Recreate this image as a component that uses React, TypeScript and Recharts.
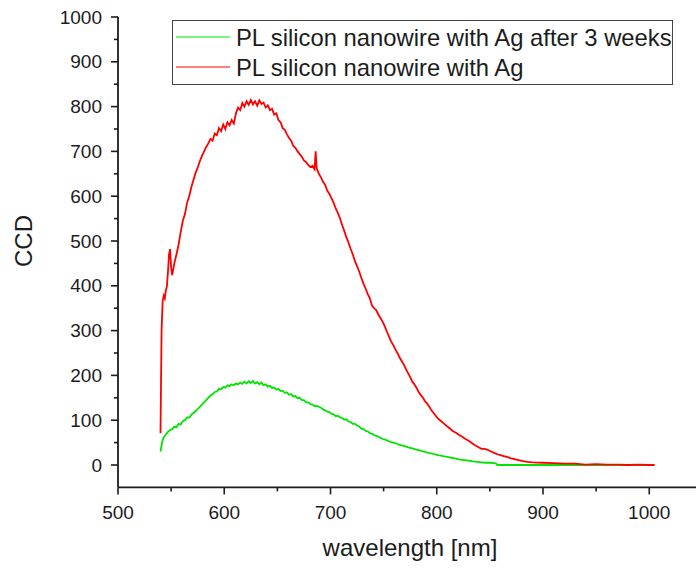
import React from 'react';
import { LineChart, Line, XAxis, YAxis, Label } from 'recharts';

const FONT = '"Liberation Sans", Arial, Helvetica, sans-serif';
const INK = '#1c1c1c';

const X_TICKS = [500, 550, 600, 650, 700, 750, 800, 850, 900, 950, 1000];
const Y_TICKS = [0, 50, 100, 150, 200, 250, 300, 350, 400, 450, 500, 550, 600, 650, 700, 750, 800, 850, 900, 950, 1000];

const SERIES_NAMES = ['PL silicon nanowire with Ag after 3 weeks', 'PL silicon nanowire with Ag'];
const SERIES_COLORS = ['#00e400', '#ff0000'];

// [wavelength nm, CCD counts]
const plAfter3Weeks: [number, number][] = [
  [540, 30], [541, 44], [542, 55], [543, 62], [545, 68], [547, 74], [549, 78], [551, 80],
  [553, 86], [555, 84], [557, 92], [559, 90], [561, 98], [563, 100], [565, 106], [567, 106],
  [569, 112], [571, 116], [573, 120], [575, 125], [577, 130], [579, 135], [581, 140], [583, 145],
  [585, 150], [587, 155], [589, 158], [591, 163], [593, 164], [595, 170], [597, 169], [599, 174],
  [601, 173], [603, 178], [605, 176], [607, 180], [609, 178], [611, 182], [613, 180], [615, 184],
  [617, 181], [619, 186], [621, 182], [623, 187], [625, 183], [627, 188], [629, 182], [631, 185],
  [633, 180], [635, 184], [637, 178], [639, 180], [641, 175], [643, 177], [645, 172], [647, 173],
  [649, 168], [651, 170], [653, 165], [655, 166], [657, 161], [659, 162], [661, 157], [663, 158],
  [665, 153], [667, 154], [669, 149], [671, 150], [673, 145], [675, 145], [677, 140], [679, 140],
  [681, 136], [683, 135], [685, 131], [687, 132], [689, 130], [691, 128], [693, 124], [695, 122],
  [697, 119], [699, 118], [701, 114], [703, 113], [705, 109], [707, 110], [709, 106], [711, 105],
  [713, 101], [715, 102], [717, 97], [719, 96], [721, 92], [723, 92], [725, 88], [727, 86],
  [729, 81], [731, 80], [733, 76], [735, 75], [737, 71], [739, 70], [741, 67], [743, 65],
  [745, 63], [747, 61], [749, 58], [751, 57], [753, 55], [755, 53], [757, 51], [759, 50],
  [762, 48], [765, 45], [768, 43], [771, 41], [774, 39], [777, 37], [780, 35], [783, 33],
  [786, 31], [789, 29], [792, 27], [795, 26], [798, 24], [801, 22], [804, 21], [807, 19],
  [810, 18], [814, 16], [818, 14], [822, 12], [826, 11], [830, 10], [834, 8], [838, 7],
  [842, 6], [846, 5], [850, 5], [854, 4], [856, 3], [857, 0], [1000, 0],
];

const plFresh: [number, number][] = [
  [540, 71], [541, 300], [542, 365], [543, 378], [544, 372], [545, 390], [546, 398], [547, 430],
  [548, 470], [549, 482], [550, 440], [551, 424], [553, 450], [555, 470], [557, 492], [559, 520],
  [561, 545], [563, 560], [565, 585], [567, 600], [569, 620], [571, 636], [573, 652], [575, 664],
  [577, 678], [579, 690], [581, 700], [583, 710], [585, 718], [587, 728], [589, 724], [591, 740],
  [593, 736], [595, 752], [597, 745], [599, 760], [601, 750], [603, 765], [605, 758], [607, 770],
  [609, 762], [611, 785], [613, 798], [615, 792], [617, 808], [619, 800], [621, 812], [623, 804],
  [625, 815], [627, 805], [629, 812], [631, 802], [633, 814], [635, 806], [637, 809], [639, 798],
  [641, 803], [643, 792], [645, 795], [647, 782], [649, 785], [651, 770], [653, 765], [655, 752],
  [657, 748], [659, 738], [661, 730], [663, 724], [665, 712], [667, 708], [669, 700], [671, 694],
  [673, 688], [675, 680], [677, 676], [679, 670], [681, 665], [683, 668], [685, 660], [686, 700],
  [687, 662], [689, 650], [691, 642], [693, 632], [695, 625], [697, 612], [699, 605], [701, 595],
  [703, 585], [705, 572], [707, 562], [709, 550], [711, 535], [713, 522], [715, 508], [717, 496],
  [719, 482], [721, 470], [723, 455], [725, 444], [727, 432], [729, 418], [731, 405], [733, 394],
  [735, 382], [737, 372], [739, 356], [741, 350], [743, 346], [745, 336], [747, 328], [749, 320],
  [751, 310], [753, 298], [755, 287], [757, 276], [759, 268], [761, 258], [763, 250], [765, 240],
  [767, 232], [769, 224], [771, 214], [773, 205], [775, 196], [777, 186], [779, 180], [781, 172],
  [783, 163], [785, 156], [787, 150], [789, 142], [791, 137], [793, 130], [795, 122], [797, 116],
  [799, 110], [801, 104], [803, 100], [806, 94], [809, 88], [812, 82], [815, 76], [818, 72],
  [821, 67], [824, 63], [827, 58], [830, 54], [833, 49], [836, 44], [839, 40], [842, 36],
  [845, 36], [848, 34], [851, 30], [854, 27], [857, 24], [860, 22], [863, 20], [866, 18],
  [870, 15], [875, 12], [880, 9], [885, 7], [890, 6], [900, 5], [910, 4], [920, 3],
  [930, 3], [940, 1], [950, 2], [960, 1], [970, 1], [980, 0], [990, 1], [1000, 0], [1005, 0],
];

const toRows = (pts: [number, number][]) => pts.map(([nm, ccd]) => ({ nm, ccd }));

function XTick({ x, y, payload }: any) {
  const major = payload.value % 100 === 0;
  return (
    <g>
      <line x1={x} x2={x} y1={y} y2={y + (major ? 7 : 4)} stroke={INK} strokeWidth={1.6} />
      {major && (
        <text x={x} y={y + 32} textAnchor="middle" fontSize={19} fill={INK} fontFamily={FONT}>
          {payload.value}
        </text>
      )}
    </g>
  );
}

function YTick({ x, y, payload }: any) {
  const major = payload.value % 100 === 0;
  return (
    <g>
      <line x1={x - (major ? 7 : 4)} x2={x} y1={y} y2={y} stroke={INK} strokeWidth={1.6} />
      {major && (
        <text x={x - 16} y={y} dy="0.35em" textAnchor="end" fontSize={19} fill={INK} fontFamily={FONT}>
          {payload.value}
        </text>
      )}
    </g>
  );
}

function LegendBox() {
  return (
    <svg width={696} height={100} style={{ position: 'absolute', left: 0, top: 0, pointerEvents: 'none' }}>
      <rect x={172.5} y={20.5} width={500} height={64} fill="#fff" stroke="#444" strokeWidth={1} />
      {SERIES_NAMES.map((name, i) => (
        <g key={name}>
          <line x1={176} x2={230} y1={37 + i * 30} y2={37 + i * 30} stroke={SERIES_COLORS[i]} strokeWidth={1} />
          <text x={236} y={46 + i * 30} fontSize={23.8} fill={INK} fontFamily={FONT}>
            {name}
          </text>
        </g>
      ))}
    </svg>
  );
}

export default function App() {
  return (
    <div style={{ position: 'fixed', left: 0, top: 0, width: 696, height: 568, overflow: 'hidden', background: '#fff' }}>
      <LineChart width={696} height={568} margin={{ top: 17, right: 0, bottom: 0, left: 0 }}>
        <XAxis
          dataKey="nm"
          type="number"
          domain={[500, 1044]}
          ticks={X_TICKS}
          interval={0}
          allowDataOverflow
          height={80.6}
          tickSize={0}
          tickMargin={0}
          tickLine={false}
          tick={<XTick />}
          axisLine={{ stroke: INK, strokeWidth: 1.8 }}
        >
          <Label
            content={() => (
              <text x={410} y={556} textAnchor="middle" fontSize={24} fill={INK} fontFamily={FONT}>
                wavelength [nm]
              </text>
            )}
          />
        </XAxis>
        <YAxis
          dataKey="ccd"
          type="number"
          domain={[-50, 1000]}
          ticks={Y_TICKS}
          interval={0}
          allowDataOverflow
          width={118}
          tickSize={0}
          tickMargin={0}
          tickLine={false}
          tick={<YTick />}
          axisLine={{ stroke: INK, strokeWidth: 1.8 }}
        >
          <Label
            content={() => (
              <text
                x={24}
                y={241}
                transform="rotate(-90 24 241)"
                textAnchor="middle"
                dy="0.35em"
                fontSize={24}
                fill={INK}
                fontFamily={FONT}
              >
                CCD
              </text>
            )}
          />
        </YAxis>
        <Line
          data={toRows(plAfter3Weeks)}
          dataKey="ccd"
          name={SERIES_NAMES[0]}
          stroke={SERIES_COLORS[0]}
          strokeWidth={1.8}
          dot={false}
          isAnimationActive={false}
        />
        <Line
          data={toRows(plFresh)}
          dataKey="ccd"
          name={SERIES_NAMES[1]}
          stroke={SERIES_COLORS[1]}
          strokeWidth={1.8}
          dot={false}
          isAnimationActive={false}
        />
      </LineChart>
      <LegendBox />
    </div>
  );
}
